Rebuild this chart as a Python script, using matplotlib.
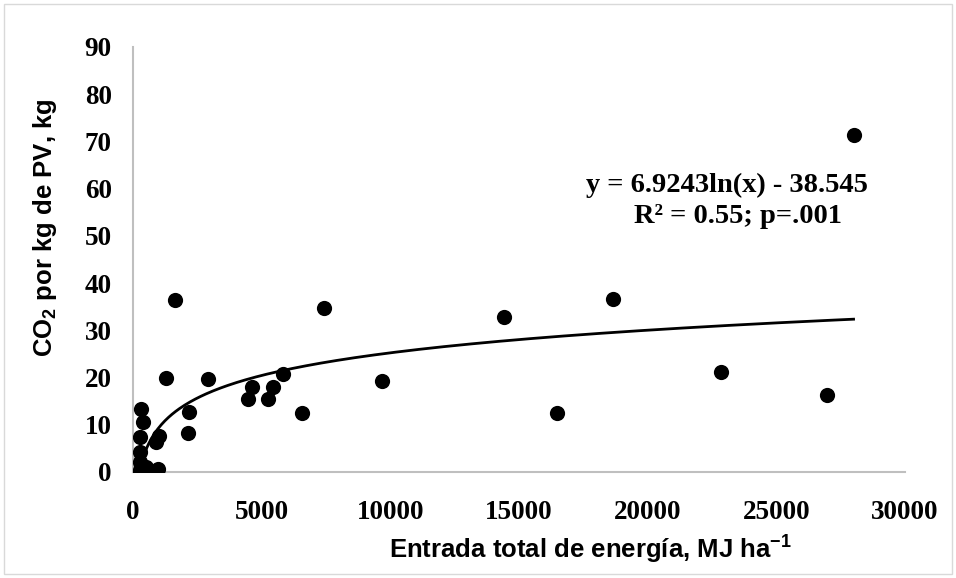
import numpy as np
import matplotlib
matplotlib.use("Agg")
import matplotlib.pyplot as plt
from matplotlib.patches import Rectangle

plt.rcParams["mathtext.default"] = "regular"

# energy input (MJ/ha) and CO2 per kg live weight
energia = [280, 300, 320, 280, 280, 350, 450, 550, 600, 1000, 500,
           280, 310, 410, 900, 1030, 1290, 1640, 2160, 2190, 2910,
           4490, 4620, 5260, 5460, 5850, 6580, 7430, 9670, 14410,
           16480, 18660, 22870, 26980, 28000]
co2 = [0.0, 0.5, 1.5, 2.2, 4.3, 0.2, 0.0, 0.0, 0.4, 0.6, 1.0,
       7.5, 13.3, 10.5, 6.3, 7.7, 19.8, 36.4, 8.2, 12.8, 19.6,
       15.5, 18.1, 15.4, 17.9, 20.8, 12.4, 34.7, 19.3, 32.9,
       12.4, 36.6, 21.2, 16.2, 71.4]

coef_a, coef_b = 6.9243, -38.545
x_ticks = [0, 5000, 10000, 15000, 20000, 25000, 30000]
y_ticks = [0, 10, 20, 30, 40, 50, 60, 70, 80, 90]

fig = plt.figure(figsize=(9.56, 5.78), dpi=100)
ax = fig.add_axes([0.1388, 0.1834, 0.8079, 0.7353])

ax.scatter(energia, co2, s=120, color="black", zorder=3, linewidths=0)

xf = np.linspace(min(energia), max(energia), 400)
ax.plot(xf, coef_a * np.log(xf) + coef_b, color="black", lw=2, zorder=2)

ax.set_xlim(0, 30000)
ax.set_ylim(0, 90)
ax.set_xticks(x_ticks)
ax.set_yticks(y_ticks)
for s in ["top", "right"]:
    ax.spines[s].set_visible(False)
for s in ["left", "bottom"]:
    ax.spines[s].set_color("#BFBFBF")
    ax.spines[s].set_linewidth(1.5)
ax.tick_params(axis="y", length=0, pad=15)
ax.tick_params(axis="x", length=0, pad=20)
for lab in ax.get_xticklabels() + ax.get_yticklabels():
    lab.set_fontfamily("Liberation Serif")
    lab.set_fontweight("bold")
    lab.set_fontsize(19.5)

fig.text(590 / 956, 1 - 550 / 578, "Entrada total de energía, MJ ha$^{-1}$",
         ha="center", va="center", fontsize=18.5, fontweight="bold",
         family="Liberation Sans")
fig.text(45 / 956, 1 - 228 / 578, "CO$_2$ por kg de PV, kg", rotation=90,
         ha="center", va="center", fontsize=18.5, fontweight="bold",
         family="Liberation Sans")

ax.text(0.77, 0.675, "y = 6.9243ln(x) - 38.545", transform=ax.transAxes,
        ha="center", va="center", fontsize=20.5, fontweight="bold",
        family="Liberation Serif")
ax.text(0.784, 0.60, "R² = 0.55; p=.001", transform=ax.transAxes,
        ha="center", va="center", fontsize=20.5, fontweight="bold",
        family="Liberation Serif")

fig.patches.append(Rectangle((4 / 956, 4 / 578), 948 / 956, 570 / 578,
                             transform=fig.transFigure, fill=False,
                             edgecolor="#D9D9D9", lw=1))

fig.savefig("out.png", dpi=100)
